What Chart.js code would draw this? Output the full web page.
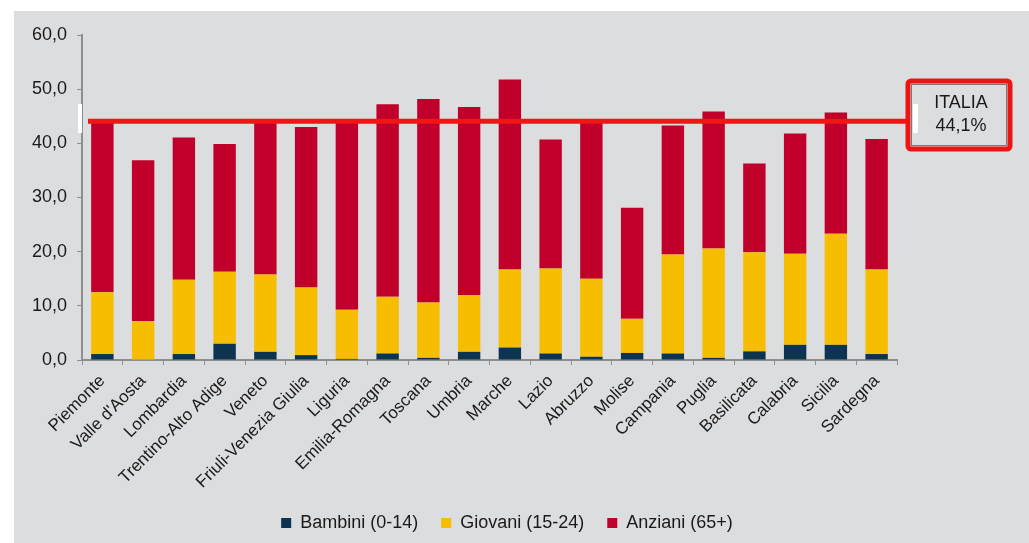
<!DOCTYPE html>
<html>
<head>
<meta charset="utf-8">
<script src="https://cdn.jsdelivr.net/npm/chart.js@4"></script>
<style>
  html, body { margin: 0; padding: 0; background: #ffffff; }
  #panel { position: absolute; left: 14px; top: 11px; width: 1015px; height: 532px; background: #dcdddf; }
  #c { position: absolute; left: 0; top: 0; }
</style>
</head>
<body>
<div id="panel"></div>
<canvas id="c" width="1029" height="543"></canvas>
<script>
// Regioni
const regions = [
  'Piemonte', "Valle d'Aosta", 'Lombardia', 'Trentino-Alto Adige', 'Veneto',
  'Friuli-Venezia Giulia', 'Liguria', 'Emilia-Romagna', 'Toscana', 'Umbria',
  'Marche', 'Lazio', 'Abruzzo', 'Molise', 'Campania',
  'Puglia', 'Basilicata', 'Calabria', 'Sicilia', 'Sardegna'
];

// Quote per fascia d'età (segmenti impilati)
const bambini = [1.1, 0.0, 1.1, 3.0, 1.5, 0.9, 0.2, 1.2, 0.4, 1.5, 2.3, 1.2, 0.6, 1.3, 1.2, 0.4, 1.6, 2.8, 2.8, 1.1];
const giovani = [11.4, 7.2, 13.7, 13.3, 14.3, 12.5, 9.1, 10.5, 10.2, 10.5, 14.4, 15.7, 14.4, 6.3, 18.3, 20.2, 18.3, 16.8, 20.5, 15.6];
const anziani = [31.9, 29.7, 26.3, 23.6, 28.7, 29.6, 35.2, 35.5, 37.6, 34.7, 35.1, 23.8, 29.5, 20.5, 23.8, 25.3, 16.4, 22.2, 22.4, 24.1];

// Asse Y
const yTicks = [0, 10, 20, 30, 40, 50, 60];

// Riferimento nazionale
const italiaLabel = 'ITALIA';
const italiaValue = 44.1;

const seriesNames = ['Bambini (0-14)', 'Giovani (15-24)', 'Anziani (65+)'];
const seriesColors = ['#0c3450', '#f7bd00', '#c0002b'];

const FONT = "'Liberation Sans', Arial, sans-serif";
const AXIS_GREY = '#8e8e8e';
const fmt = v => v.toFixed(1).replace('.', ',');

// Linea ITALIA con riquadro etichetta; legenda centrata sotto il grafico
const italiaOverlay = {
  id: 'italiaOverlay',
  afterLayout(chart) {
    const lg = chart.legend;
    const dx = 507 - (lg.left + lg.right) / 2;
    lg.left += dx;
    lg.right += dx;
  },
  afterDatasetsDraw(chart) {
    const { ctx, chartArea, scales: { y } } = chart;
    const yy = y.getPixelForValue(italiaValue);
    const boxL = chartArea.right + 11, boxT = chartArea.top + 46, boxW = 102, boxH = 68;
    ctx.save();

    // linguetta bianca sull'asse
    ctx.fillStyle = '#ffffff';
    ctx.fillRect(chartArea.left - 4, chartArea.top + 69, 4, 29);

    // linea di riferimento
    ctx.strokeStyle = '#f01616';
    ctx.lineWidth = 5;
    ctx.beginPath();
    ctx.moveTo(chartArea.left + 6, yy);
    ctx.lineTo(boxL, yy);
    ctx.stroke();

    // riquadro
    ctx.fillStyle = '#dcdddf';
    ctx.fillRect(boxL, boxT, boxW, boxH);
    ctx.strokeStyle = '#ee1414';
    ctx.lineWidth = 5;
    ctx.beginPath();
    ctx.roundRect(boxL, boxT, boxW, boxH, 3);
    ctx.stroke();
    ctx.strokeStyle = '#7a7a7a';
    ctx.lineWidth = 1;
    ctx.strokeRect(boxL + 3.5, boxT + 3.5, boxW - 7, boxH - 7);

    ctx.fillStyle = '#ffffff';
    ctx.fillRect(boxL + 5, boxT + 23, 5, 29);

    ctx.fillStyle = '#1a1a1a';
    ctx.font = '18px ' + FONT;
    ctx.textAlign = 'center';
    ctx.textBaseline = 'middle';
    ctx.fillText(italiaLabel, boxL + 53, boxT + 22);
    ctx.fillText(fmt(italiaValue) + '%', boxL + 53, boxT + 45);
    ctx.restore();
  }
};

const datasets = [bambini, giovani, anziani].map((data, i) => ({
  label: seriesNames[i],
  data,
  backgroundColor: seriesColors[i],
  borderWidth: 0,
  barPercentage: 0.55,
  categoryPercentage: 1.0,
  stack: 'eta'
}));

new Chart(document.getElementById('c'), {
  type: 'bar',
  data: { labels: regions, datasets },
  plugins: [italiaOverlay],
  options: {
    responsive: false,
    animation: false,
    devicePixelRatio: 1,
    layout: { padding: { left: 14, right: 132, top: 35, bottom: 1 } },
    plugins: {
      tooltip: { enabled: false },
      legend: {
        position: 'bottom',
        labels: {
          font: { family: FONT, size: 18 },
          color: '#1a1a1a',
          boxWidth: 10,
          boxHeight: 10,
          padding: 23
        }
      }
    },
    scales: {
      x: {
        stacked: true,
        grid: { display: true, drawOnChartArea: false, color: AXIS_GREY, tickLength: 5, offset: true },
        border: { color: AXIS_GREY, width: 2 },
        ticks: {
          color: '#1a1a1a',
          font: { family: FONT, size: 17 },
          minRotation: 45,
          maxRotation: 45,
          autoSkip: false,
          padding: 6
        },
        afterFit(scale) { scale.height = 131; }
      },
      y: {
        stacked: true,
        min: yTicks[0],
        max: yTicks[yTicks.length - 1],
        grid: { display: true, drawOnChartArea: false, color: AXIS_GREY, tickLength: 5 },
        border: { color: AXIS_GREY, width: 2 },
        afterBuildTicks(scale) { scale.ticks = yTicks.map(v => ({ value: v })); },
        ticks: {
          color: '#1a1a1a',
          font: { family: FONT, size: 18 },
          padding: 10,
          callback: v => fmt(v)
        },
        afterFit(scale) { scale.width = 68; }
      }
    }
  }
});
</script>
</body>
</html>
